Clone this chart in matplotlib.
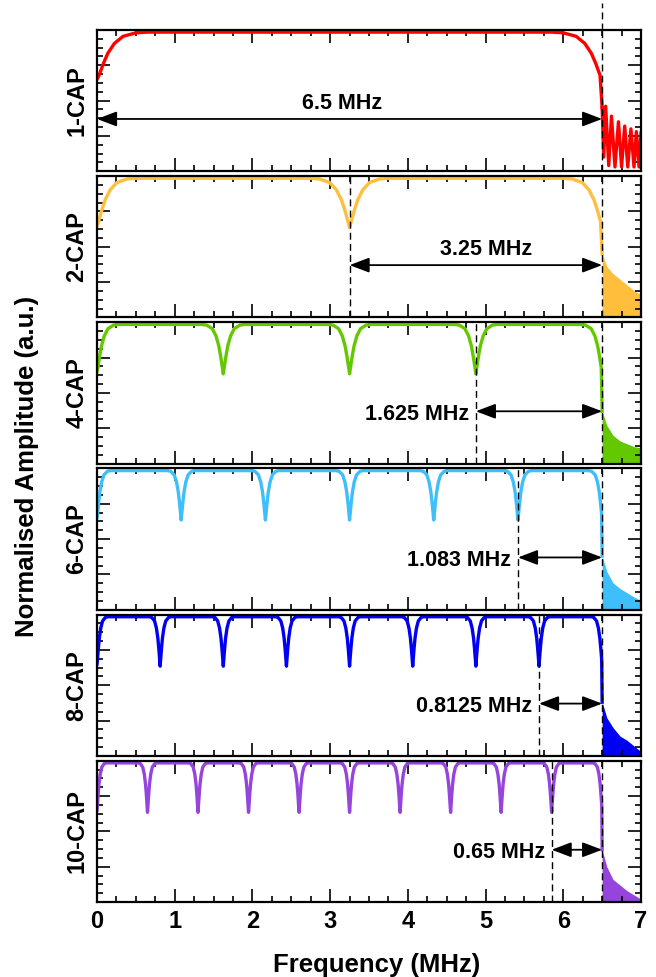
"""
CAP 子带频谱对比图
"""
import matplotlib
matplotlib.use('Agg')
import matplotlib.pyplot as plt
from matplotlib.ticker import MultipleLocator, NullFormatter

plt.rcParams['font.family'] = ['Liberation Sans', 'DejaVu Sans']
plt.rcParams['font.weight'] = 'bold'

# ---- data ----
cap_labels = ['1-CAP', '2-CAP', '4-CAP', '6-CAP', '8-CAP', '10-CAP']
cap_colors = ['#ff0000', '#ffbe3c', '#64c800', '#3ebefa', '#0000f5', '#9645dc']

# notch / band-edge positions (MHz)
notches = [
    [0.0, 6.5],
    [0.0, 3.25, 6.5],
    [0.0, 1.625, 3.25, 4.875, 6.5],
    [0.0, 1.083, 2.167, 3.25, 4.333, 5.417, 6.5],
    [0.0, 0.8125, 1.625, 2.4375, 3.25, 4.0625, 4.875, 5.6875, 6.5],
    [0.0, 0.65, 1.3, 1.95, 2.6, 3.25, 3.9, 4.55, 5.2, 5.85, 6.5],
]

# notch profile (read from the 2-CAP dip): distance from notch (MHz) -> level
dip_offsets = [0.0, 0.021, 0.064, 0.107, 0.172, 0.257, 0.386, 0.5]
dip_levels = [0.635, 0.68, 0.764, 0.835, 0.905, 0.955, 0.98, 0.985]
edge_start = 0.65
dip_width = [1.3, 1.0, 0.55, 0.35, 0.28, 0.24]   # width of notch per panel (rel.)

# out-of-band tails
tail_x = [6.5, 6.56, 6.64, 6.73, 6.82, 6.91, 7.0]
tail_y = [
    None,
    [0.45, 0.36, 0.31, 0.27, 0.23, 0.19, 0.16],
    [0.37, 0.27, 0.20, 0.16, 0.14, 0.12, 0.11],
    [0.38, 0.27, 0.19, 0.15, 0.12, 0.09, 0.065],
    [0.38, 0.27, 0.20, 0.14, 0.11, 0.07, 0.03],
    [0.37, 0.25, 0.16, 0.12, 0.08, 0.05, 0.02],
]
lobe_x = [6.5, 6.52, 6.545, 6.585, 6.62, 6.665, 6.71, 6.75, 6.79,
          6.83, 6.87, 6.91, 6.94, 6.975, 7.0]
lobe_y = [0.45, 0.10, 0.46, 0.04, 0.39, 0.03, 0.35, 0.03, 0.32,
          0.03, 0.30, 0.03, 0.28, 0.03, 0.27]
tail_start = [0.45, 0.45, 0.37, 0.38, 0.38, 0.37]

# spacing annotations
spacing_text = ['6.5 MHz', '3.25 MHz', '1.625 MHz', '1.083 MHz', '0.8125 MHz', '0.65 MHz']
spacing_from = [0.0, 3.25, 4.875, 5.417, 5.6875, 5.85]
band_edge = 6.5

fig = plt.figure(figsize=(6.56, 9.77), dpi=100)
gs = fig.add_gridspec(6, 1, left=97/656, right=641/656, top=1-30/977,
                      bottom=1-902/977, hspace=0.035)

arrow_style = '<|-|>,head_length=1.0,head_width=0.38'

for i in range(6):
    ax = fig.add_subplot(gs[i])
    col = cap_colors[i]
    s = dip_width[i]
    pos = notches[i]

    # build the in-band curve from the notch profile
    xs, ys = [], []
    for j, c in enumerate(pos):
        if j > 0:
            for off, lev in reversed(list(zip(dip_offsets, dip_levels))):
                if off == 0 and j == len(pos) - 1:
                    lev = tail_start[i]
                xs.append(c - off * s)
                ys.append(lev)
        if j < len(pos) - 1:
            for off, lev in zip(dip_offsets, dip_levels):
                if off == 0:
                    if j > 0:
                        continue
                    lev = edge_start
                xs.append(c + off * s)
                ys.append(lev)
    ax.plot(xs, ys, color=col, lw=2.4, solid_joinstyle='round')

    if i == 0:
        ax.plot(lobe_x, lobe_y, color=col, lw=2.4, solid_joinstyle='round')
    else:
        ax.fill_between(tail_x, 0, tail_y[i], color=col, lw=0)
        ax.axvline(spacing_from[i], color='k', lw=1.0, ls=(0, (5, 3)))

    # band edge dashed line
    ax.axvline(band_edge, color='k', lw=1.0, ls=(0, (5, 3)))
    if i == 0:
        ax.plot([band_edge, band_edge], [1.0, 1.19], color='k', lw=1.0,
                ls=(0, (5, 3)), clip_on=False)

    # spacing arrows
    ax.annotate('', xy=(spacing_from[i], 0.37), xytext=(band_edge, 0.37),
                arrowprops=dict(arrowstyle=arrow_style, color='k', lw=1.3,
                                mutation_scale=12, shrinkA=0, shrinkB=0))
    if i == 0:
        ax.text(3.15, 0.48, spacing_text[i], ha='center', va='center',
                fontsize=15.5, fontweight='bold')
    elif i == 1:
        ax.text(5.0, 0.48, spacing_text[i], ha='center', va='center',
                fontsize=15.5, fontweight='bold')
    else:
        ax.annotate(spacing_text[i], xy=(spacing_from[i], 0.35),
                    xytext=(-5, 0), textcoords='offset points',
                    ha='right', va='center', fontsize=15.5, fontweight='bold')

    ax.text(-0.037, 0.5, cap_labels[i], transform=ax.transAxes, rotation=90,
            ha='center', va='center', fontsize=17, fontweight='bold')

    ax.set_xlim(0, 7)
    ax.set_ylim(0, 1)
    ax.xaxis.set_major_locator(MultipleLocator(1))
    ax.xaxis.set_minor_locator(MultipleLocator(0.25))
    ax.yaxis.set_major_locator(MultipleLocator(0.25))
    ax.yaxis.set_minor_locator(MultipleLocator(0.0625))
    ax.yaxis.set_major_formatter(NullFormatter())
    ax.tick_params(which='both', direction='in', top=True, right=True, width=1.2)
    ax.tick_params(which='major', length=9.5)
    ax.tick_params(which='minor', length=4.5)
    ax.tick_params(axis='x', labelbottom=(i == 5), labelsize=17, pad=6)
    for sp in ax.spines.values():
        sp.set_linewidth(1.6)
    for lab in ax.get_xticklabels():
        lab.set_fontweight('bold')

fig.text(0.041, 1 - 466/977, 'Normalised Amplitude (a.u.)', rotation=90,
         ha='center', va='center', fontsize=18.5, fontweight='bold')
fig.text(0.574, 1 - 965/977, 'Frequency (MHz)', ha='center', va='center',
         fontsize=18.5, fontweight='bold')

plt.savefig('out.png', dpi=100)
plt.close()
